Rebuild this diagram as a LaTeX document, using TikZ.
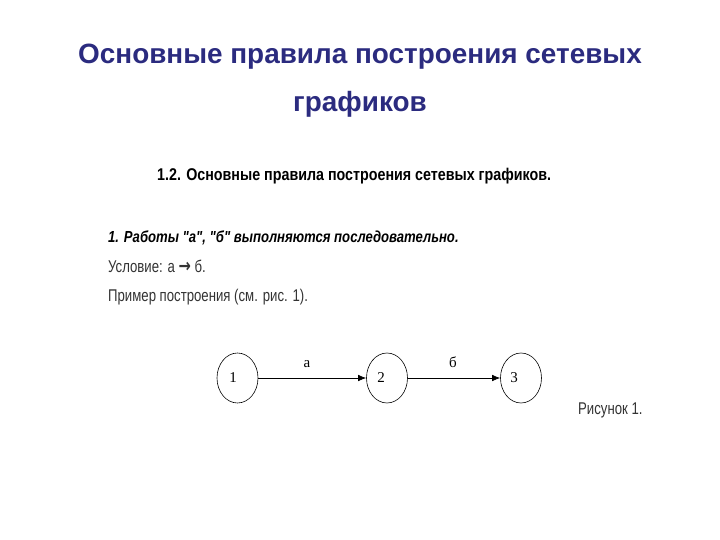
\documentclass[tikz,border=0pt]{standalone}
\usepackage{fontspec}
\setmainfont{Liberation Sans}[Ligatures=TeXOff]
\newfontfamily\serifnum{Liberation Serif}
\newfontfamily\symfont{DejaVu Sans}
\usetikzlibrary{arrows.meta,shapes.geometric}
\definecolor{titleblue}{HTML}{2B2B7F}
\definecolor{scangray}{HTML}{333333}
\tikzset{
  ttl/.style={font=\fontsize{27.9}{32}\selectfont\bfseries, text=titleblue, inner sep=0},
  scan/.style={inner sep=0, anchor=west},
  event/.style={draw, ellipse, minimum width=41pt, minimum height=50pt, inner sep=0, line width=0.6pt},
  work/.style={-{Latex[length=8pt,width=6.5pt]}, line width=0.7pt},
  lbl/.style={font=\serifnum\fontsize{15}{17}\selectfont, inner sep=0}
}
\begin{document}
\begin{tikzpicture}[x=1pt,y=-1pt]
\useasboundingbox (0,0) rectangle (720,540);
\node[ttl] (t1) at (360,57) {Основные правила построения сетевых};
\node[ttl] (t2) at (360,104) {графиков};
\node[scan] (h) at (157,176) {\scalebox{0.84}[1]{\fontsize{17}{20}\selectfont\bfseries 1.2. Основные правила построения сетевых графиков.}};
\node[scan] (r1) at (108,238) {\scalebox{0.82}[1]{\fontsize{16}{19}\selectfont\bfseries\itshape 1. Работы "а", "б" выполняются последовательно.}};
\node[scan, text=scangray] (r2) at (108,266) {\scalebox{0.775}[1]{\fontsize{17}{20}\selectfont Условие: а {\symfont\bfseries\fontsize{19}{20}\selectfont →} б.}};
\node[scan, text=scangray] (r3) at (108,297) {\scalebox{0.775}[1]{\fontsize{17}{20}\selectfont Пример построения (см. рис. 1).}};
\node[event] (e1) at (237.5,378) {};
\node[event] (e2) at (387,378) {};
\node[event] (e3) at (521,378) {};
\node[lbl] (n1) at (233,378) {1};
\node[lbl] (n2) at (381,378) {2};
\node[lbl] (n3) at (514,378) {3};
\draw[work] (e1) -- (e2);
\draw[work] (e2) -- (e3);
\node[lbl] (la) at (307,364) {а};
\node[lbl] (lb) at (453,362) {б};
\node[scan, text=scangray] (cap) at (578,410) {\scalebox{0.775}[1]{\fontsize{17}{20}\selectfont Рисунок 1.}};
\end{tikzpicture}
\end{document}
